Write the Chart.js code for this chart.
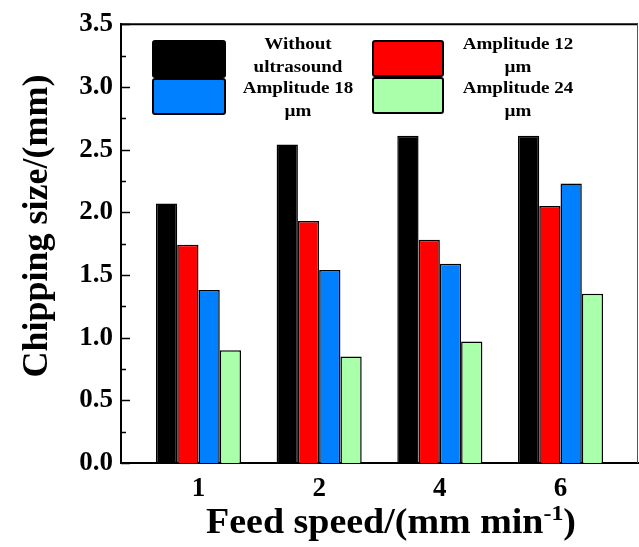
<!DOCTYPE html>
<html>
<head>
<meta charset="utf-8">
<script src="https://cdn.jsdelivr.net/npm/chart.js@4/dist/chart.umd.min.js"></script>
<style>
  html, body { margin: 0; padding: 0; background: #fff; }
  #wrap { width: 639px; height: 547px; }
</style>
</head>
<body>
<div id="wrap"><canvas id="c" width="639" height="547"></canvas></div>
<script>
// ---- data ----
const categories = ['1', '2', '4', '6'];
const seriesLabels = ['Without ultrasound', 'Amplitude 12 µm', 'Amplitude 18 µm', 'Amplitude 24 µm'];
const withoutUltrasound = [2.07, 2.54, 2.61, 2.61];
const amplitude12 = [1.74, 1.93, 1.78, 2.05];
const amplitude18 = [1.38, 1.54, 1.59, 2.23];
const amplitude24 = [0.90, 0.85, 0.97, 1.35];
const yTicks = [0, 0.5, 1.0, 1.5, 2.0, 2.5, 3.0, 3.5];
const yTitle = 'Chipping size/(mm)';
const xTitle = 'Feed speed/(mm min';
const xTitleSup = '-1';

const colors = ['#000000', '#FF0000', '#0080FF', '#AAFFAA'];
const seriesValues = [withoutUltrasound, amplitude12, amplitude18, amplitude24];
const FONT = '"Liberation Serif", "Times New Roman", serif';

const datasets = seriesValues.map((vals, k) => ({
  label: seriesLabels[k],
  data: vals.map((v, i) => ({ x: i, y: v })),
  backgroundColor: colors[k],
  borderColor: '#000',
  borderWidth: 1.5,
  borderSkipped: 'start',
  categoryPercentage: 0.705,
  barPercentage: 1.0
}));

function stretchedText(ctx, text, x, y, sx, align) {
  const w = ctx.measureText(text).width * sx;
  let left = x;
  if (align === 'center') left = x - w / 2;
  else if (align === 'right') left = x - w;
  ctx.save();
  ctx.translate(left, y);
  ctx.scale(sx, 1);
  ctx.textAlign = 'left';
  ctx.fillText(text, 0, 0);
  ctx.restore();
  return w;
}

const decor = {
  id: 'decor',
  afterDraw(chart) {
    const ctx = chart.ctx;
    const a = chart.chartArea;
    const ys = chart.scales.y;
    ctx.save();
    // frame top / right
    ctx.strokeStyle = '#000';
    ctx.lineWidth = 2;
    ctx.beginPath();
    ctx.moveTo(a.left - 1, a.top);
    ctx.lineTo(a.right, a.top);
    ctx.stroke();
    ctx.strokeStyle = '#555';
    ctx.lineWidth = 1;
    ctx.beginPath();
    ctx.moveTo(a.right - 0.5, a.top);
    ctx.lineTo(a.right - 0.5, a.bottom);
    ctx.stroke();
    // inward y ticks (major + minor)
    ctx.strokeStyle = '#000';
    ctx.lineWidth = 1.5;
    for (let i = 0; i < yTicks.length; i++) {
      const vals = [yTicks[i]];
      if (i < yTicks.length - 1) vals.push((yTicks[i] + yTicks[i + 1]) / 2);
      vals.forEach((v, j) => {
        const py = Math.round(ys.getPixelForValue(v)) + 0.5;
        const len = j === 0 ? 9 : 5;
        ctx.beginPath();
        ctx.moveTo(a.left, py);
        ctx.lineTo(a.left + len, py);
        ctx.stroke();
      });
    }
    // legend
    const boxes = [
      { x: 153, y: 41, w: 72, h: 36, tx: 298, ty: [45, 68] },
      { x: 373, y: 41, w: 70, h: 35, tx: 518, ty: [45, 68] },
      { x: 153, y: 79, w: 72, h: 35, tx: 298, ty: [89, 112] },
      { x: 373, y: 78, w: 70, h: 35, tx: 518, ty: [89, 112] }
    ];
    chart.data.datasets.forEach((ds, k) => {
      const b = boxes[k];
      ctx.fillStyle = ds.backgroundColor;
      ctx.strokeStyle = '#000';
      ctx.lineWidth = 2;
      ctx.beginPath();
      if (ctx.roundRect) ctx.roundRect(b.x, b.y, b.w, b.h, 2); else ctx.rect(b.x, b.y, b.w, b.h);
      ctx.fill();
      ctx.stroke();
      const label = ds.label;
      const cut = label.lastIndexOf(' ');
      const lines = [label.slice(0, cut), label.slice(cut + 1)];
      ctx.fillStyle = '#000';
      ctx.font = 'bold 17px ' + FONT;
      ctx.textBaseline = 'middle';
      lines.forEach((ln, j) => stretchedText(ctx, ln, b.tx, b.ty[j], 1.12, 'center'));
    });
    // y title
    ctx.save();
    ctx.translate(47, 226);
    ctx.rotate(-Math.PI / 2);
    ctx.font = 'bold 36px ' + FONT;
    ctx.textAlign = 'center';
    ctx.textBaseline = 'alphabetic';
    ctx.fillStyle = '#000';
    ctx.fillText(yTitle, 0, 0);
    ctx.restore();
    // x title with superscript
    const sx = 1.085;
    ctx.font = 'bold 35px ' + FONT;
    const w1 = ctx.measureText(xTitle).width * sx;
    const w3 = ctx.measureText(')').width * sx;
    ctx.font = 'bold 22px ' + FONT;
    const w2 = ctx.measureText(xTitleSup).width * sx;
    const total = w1 + w2 + w3;
    let x0 = 391 - total / 2;
    ctx.textBaseline = 'alphabetic';
    ctx.fillStyle = '#000';
    ctx.font = 'bold 35px ' + FONT;
    stretchedText(ctx, xTitle, x0, 533, sx, 'left');
    ctx.font = 'bold 22px ' + FONT;
    stretchedText(ctx, xTitleSup, x0 + w1, 520, sx, 'left');
    ctx.font = 'bold 35px ' + FONT;
    stretchedText(ctx, ')', x0 + w1 + w2, 533, sx, 'left');
    ctx.restore();
  }
};

new Chart(document.getElementById('c'), {
  type: 'bar',
  data: { datasets },
  options: {
    responsive: false,
    animation: false,
    devicePixelRatio: 1,
    layout: { padding: { top: 18, right: 1, left: 0, bottom: 0 } },
    plugins: { legend: { display: false }, tooltip: { enabled: false } },
    scales: {
      x: {
        type: 'linear',
        min: -0.642,
        max: 3.642,
        offset: false,
        grid: { display: false, drawTicks: false },
        border: { display: true, color: '#000', width: 2 },
        afterBuildTicks: (s) => { s.ticks = categories.map((_, i) => ({ value: i })); },
        afterFit: (s) => { s.height = 84; },
        ticks: {
          padding: 10,
          color: '#000',
          font: { family: FONT, size: 27, weight: 'bold' },
          callback: (v) => categories[v]
        }
      },
      y: {
        min: 0,
        max: 3.5,
        grid: { display: false, drawTicks: false },
        border: { display: true, color: '#000', width: 2 },
        afterBuildTicks: (s) => { s.ticks = yTicks.map(v => ({ value: v })); },
        afterFit: (s) => { s.width = 121; },
        ticks: {
          padding: 8,
          color: '#000',
          font: { family: FONT, size: 27, weight: 'bold' },
          callback: (v) => Number(v).toFixed(1)
        }
      }
    }
  },
  plugins: [decor]
});
</script>
</body>
</html>
